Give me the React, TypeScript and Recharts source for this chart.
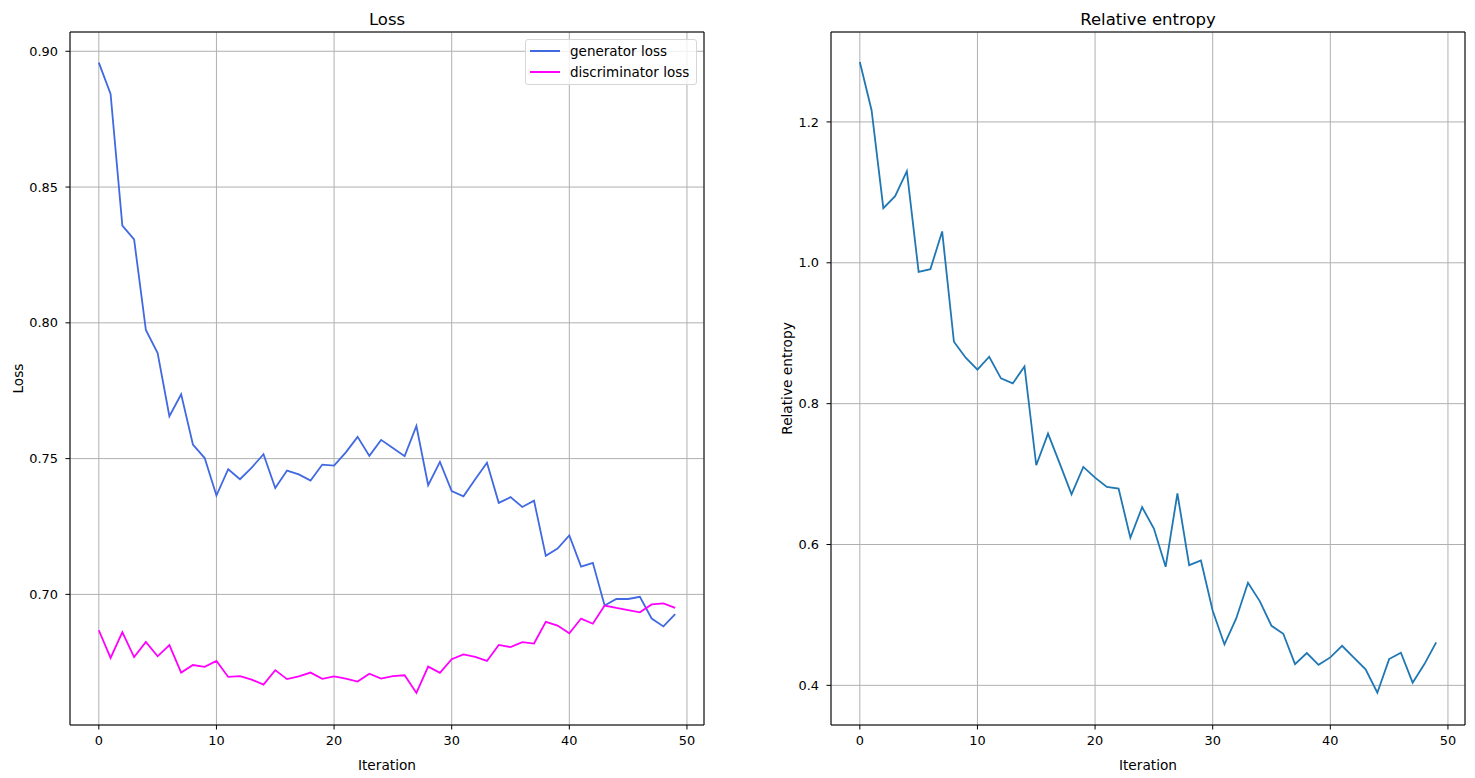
import React from 'react';
import { LineChart, Line, XAxis, YAxis, CartesianGrid, Legend, ReferenceLine } from 'recharts';

const FONT = '"DejaVu Sans", sans-serif';

const iterations = [
  0, 1, 2, 3, 4, 5, 6, 7, 8, 9, 10, 11, 12, 13, 14, 15, 16, 17, 18, 19, 20, 21, 22, 23, 24,
  25, 26, 27, 28, 29, 30, 31, 32, 33, 34, 35, 36, 37, 38, 39, 40, 41, 42, 43, 44, 45, 46, 47, 48, 49,
];

const generatorLoss = [
  0.8958, 0.8843, 0.8358, 0.8307, 0.7974, 0.7889, 0.7656, 0.7737, 0.7552, 0.7502,
  0.7364, 0.7461, 0.7424, 0.7467, 0.7516, 0.7392, 0.7456, 0.7442, 0.7419, 0.7478,
  0.7474, 0.7523, 0.758, 0.751, 0.7569, 0.7539, 0.7509, 0.762, 0.7402, 0.7488,
  0.738, 0.7361, 0.7424, 0.7485, 0.7337, 0.7358, 0.7322, 0.7345, 0.7142, 0.7169,
  0.7217, 0.7102, 0.7116, 0.6959, 0.6983, 0.6983, 0.6991, 0.6911, 0.6882, 0.6927,
];

const discriminatorLoss = [
  0.6868, 0.6766, 0.6861, 0.6769, 0.6825, 0.6772, 0.6813, 0.6712, 0.674, 0.6733,
  0.6755, 0.6696, 0.6699, 0.6686, 0.6668, 0.6721, 0.6688, 0.6698, 0.6712, 0.6689,
  0.6698, 0.669, 0.6679, 0.6708, 0.669, 0.6699, 0.6702, 0.6637, 0.6734, 0.6711,
  0.6761, 0.6779, 0.677, 0.6755, 0.6814, 0.6806, 0.6824, 0.6819, 0.6899, 0.6885,
  0.6857, 0.6911, 0.6892, 0.6959, 0.695, 0.6942, 0.6934, 0.6963, 0.6967, 0.695,
];

const relativeEntropy = [
  1.2851, 1.2166, 1.0775, 1.0945, 1.13, 0.9872, 0.991, 1.0445, 0.8879, 0.8652,
  0.8482, 0.8666, 0.8359, 0.8287, 0.8529, 0.7125, 0.7574, 0.7149, 0.6713, 0.7101,
  0.695, 0.6818, 0.6794, 0.6095, 0.653, 0.6227, 0.5683, 0.6724, 0.5707, 0.5773,
  0.5059, 0.4581, 0.495, 0.5456, 0.5196, 0.4846, 0.4732, 0.4302, 0.4458, 0.4292,
  0.4397, 0.4562, 0.4392, 0.4227, 0.3896, 0.4373, 0.4463, 0.4038, 0.4302, 0.461,
];

const lossSeriesNames = ['generator loss', 'discriminator loss'];
const xTicks = [0, 10, 20, 30, 40, 50];
const lossTicks = [0.7, 0.75, 0.8, 0.85, 0.9];
const entropyTicks = [0.4, 0.6, 0.8, 1.0, 1.2];
const xDomain = [-2.45, 51.45];
const lossDomain = [0.6519, 0.9071];
const entropyDomain = [0.3437, 1.3277];

const lossRows = iterations.map((it, i) => ({
  iteration: it,
  generator: generatorLoss[i],
  discriminator: discriminatorLoss[i],
}));
const entropyRows = iterations.map((it, i) => ({ iteration: it, entropy: relativeEntropy[i] }));

const TICK_FONT = 12.9;
const LABEL_FONT = 13.7;
const TITLE_FONT = 16.5;

const tickStyle = { fill: '#000', fontSize: TICK_FONT, fontFamily: FONT };

const LossLegend = (props: any) => {
  const payload = [...(props.payload || [])].sort(
    (a: any, b: any) => lossSeriesNames.indexOf(a.value) - lossSeriesNames.indexOf(b.value)
  );
  return (
    <div
      style={{
        boxSizing: 'border-box',
        width: 172,
        height: 46,
        border: '1px solid #d6d6d6',
        borderRadius: 3,
        background: 'rgba(255,255,255,0.8)',
        padding: '1px 6px 4px 4px',
        fontFamily: FONT,
        fontSize: 13.5,
        color: '#000',
      }}
    >
      {payload.map((p: any) => (
        <div key={p.value} style={{ display: 'flex', alignItems: 'center', height: 20.5, whiteSpace: 'nowrap' }}>
          <span
            style={{
              display: 'inline-block',
              width: 30,
              height: 0,
              borderTop: `2px solid ${p.color}`,
              marginRight: 10,
            }}
          />
          <span>{p.value}</span>
        </div>
      ))}
    </div>
  );
};

const titleLabel = (text: string) => ({
  value: text,
  position: 'top' as const,
  offset: 7,
  fill: '#000',
  fontSize: TITLE_FONT,
  fontFamily: FONT,
});

export default function App() {
  return (
    <div style={{ position: 'absolute', left: 0, top: 0, width: 1475, height: 778, background: '#fff', fontFamily: FONT }}>
      <div style={{ position: 'absolute', left: 0, top: 0 }}>
        <LineChart width={720} height={778} data={lossRows} margin={{ top: 32, right: 16, bottom: 0, left: 0 }}>
          <CartesianGrid xAxisId="b" yAxisId="l" stroke="#b0b0b0" strokeWidth={1} />
          <XAxis
            xAxisId="b"
            dataKey="iteration"
            type="number"
            domain={xDomain}
            ticks={xTicks}
            allowDataOverflow
            height={53}
            stroke="#000"
            tickSize={4.5}
            tickMargin={6.5}
            tick={tickStyle}
            label={{ value: 'Iteration', position: 'insideBottom', offset: 8, fill: '#000', fontSize: LABEL_FONT, fontFamily: FONT }}
          />
          <YAxis
            yAxisId="l"
            type="number"
            domain={lossDomain}
            ticks={lossTicks}
            allowDataOverflow
            width={70}
            stroke="#000"
            tickSize={4.5}
            tickMargin={7.5}
            tick={tickStyle}
            tickFormatter={(v: number) => v.toFixed(2)}
            label={{
              value: 'Loss',
              angle: -90,
              position: 'insideLeft',
              offset: 18,
              fill: '#000',
              fontSize: LABEL_FONT,
              fontFamily: FONT,
              style: { textAnchor: 'middle' },
            }}
          />
          <ReferenceLine
            xAxisId="b"
            yAxisId="l"
            y={lossDomain[1]}
            stroke="#000"
            strokeWidth={1}
            ifOverflow="visible"
            label={titleLabel('Loss')}
          />
          <ReferenceLine xAxisId="b" yAxisId="l" x={xDomain[1]} stroke="#000" strokeWidth={1} ifOverflow="visible" />
          <Legend
            layout="vertical"
            align="center"
            verticalAlign="middle"
            wrapperStyle={{ top: 39, left: 525, width: 172, height: 46 }}
            content={<LossLegend />}
          />
          <Line
            xAxisId="b"
            yAxisId="l"
            type="linear"
            dataKey="generator"
            name="generator loss"
            stroke="#4169E1"
            strokeWidth={1.8}
            dot={false}
            activeDot={false}
            isAnimationActive={false}
          />
          <Line
            xAxisId="b"
            yAxisId="l"
            type="linear"
            dataKey="discriminator"
            name="discriminator loss"
            stroke="#FF00FF"
            strokeWidth={1.8}
            dot={false}
            activeDot={false}
            isAnimationActive={false}
          />
        </LineChart>
      </div>
      <div style={{ position: 'absolute', left: 740, top: 0 }}>
        <LineChart width={735} height={778} data={entropyRows} margin={{ top: 32, right: 10, bottom: 0, left: 0 }}>
          <CartesianGrid xAxisId="b" yAxisId="l" stroke="#b0b0b0" strokeWidth={1} />
          <XAxis
            xAxisId="b"
            dataKey="iteration"
            type="number"
            domain={xDomain}
            ticks={xTicks}
            allowDataOverflow
            height={53}
            stroke="#000"
            tickSize={4.5}
            tickMargin={6.5}
            tick={tickStyle}
            label={{ value: 'Iteration', position: 'insideBottom', offset: 8, fill: '#000', fontSize: LABEL_FONT, fontFamily: FONT }}
          />
          <YAxis
            yAxisId="l"
            type="number"
            domain={entropyDomain}
            ticks={entropyTicks}
            allowDataOverflow
            width={91}
            stroke="#000"
            tickSize={4.5}
            tickMargin={7.5}
            tick={tickStyle}
            tickFormatter={(v: number) => v.toFixed(1)}
            label={{
              value: 'Relative entropy',
              angle: -90,
              position: 'insideLeft',
              offset: 47.5,
              fill: '#000',
              fontSize: LABEL_FONT,
              fontFamily: FONT,
              style: { textAnchor: 'middle' },
            }}
          />
          <ReferenceLine
            xAxisId="b"
            yAxisId="l"
            y={entropyDomain[1]}
            stroke="#000"
            strokeWidth={1}
            ifOverflow="visible"
            label={titleLabel('Relative entropy')}
          />
          <ReferenceLine xAxisId="b" yAxisId="l" x={xDomain[1]} stroke="#000" strokeWidth={1} ifOverflow="visible" />
          <Line
            xAxisId="b"
            yAxisId="l"
            type="linear"
            dataKey="entropy"
            name="Relative entropy"
            stroke="#1f77b4"
            strokeWidth={1.8}
            dot={false}
            activeDot={false}
            isAnimationActive={false}
          />
        </LineChart>
      </div>
    </div>
  );
}
